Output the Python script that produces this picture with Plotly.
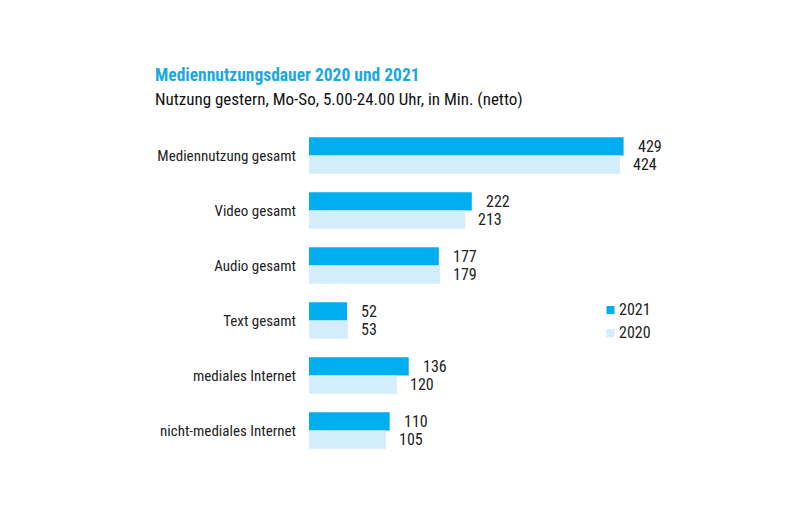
import plotly.graph_objects as go

# Mediennutzungsdauer, Minuten pro Tag
kategorien = ["Mediennutzung gesamt", "Video gesamt", "Audio gesamt",
              "Text gesamt", "mediales Internet", "nicht-mediales Internet"]
werte_2021 = [429, 222, 177, 52, 136, 110]
werte_2020 = [424, 213, 179, 53, 120, 105]
jahre = ["2021", "2020"]

BLAU = "#00AEEF"
HELLBLAU = "#D3EEFA"
FONT = "Liberation Sans Narrow, Arial Narrow, Roboto Condensed, sans-serif"

fig = go.Figure()
fig.add_trace(go.Bar(y=kategorien, x=werte_2021, name=jahre[0], orientation="h",
                     marker_color=BLAU, marker_line_width=0))
fig.add_trace(go.Bar(y=kategorien, x=werte_2020, name=jahre[1], orientation="h",
                     marker_color=HELLBLAU, marker_line_width=0))

# Zahlen rechts neben den Balken
annos = []
for kat, v in zip(kategorien, werte_2021):
    annos.append(dict(x=v, y=kat, text=str(v), showarrow=False, xanchor="left",
                      xshift=12, yshift=9, font=dict(size=16, color="#222")))
for kat, v in zip(kategorien, werte_2020):
    annos.append(dict(x=v, y=kat, text=str(v), showarrow=False, xanchor="left",
                      xshift=11, yshift=-9, font=dict(size=16, color="#222")))

annos.append(dict(xref="paper", yref="paper", x=-0.443, y=1.16, xanchor="left",
                  yanchor="middle", showarrow=False,
                  text="<b>Mediennutzungsdauer 2020 und 2021</b>",
                  font=dict(size=17.5, color="#1AA7E3")))
annos.append(dict(xref="paper", yref="paper", x=-0.443, y=1.088, xanchor="left",
                  yanchor="middle", showarrow=False,
                  text="Nutzung gestern, Mo-So, 5.00-24.00 Uhr, in Min. (netto)",
                  font=dict(size=17, color="#111")))

# eigene Legende: kleine Quadrate + Jahreszahl
shapes = []
for jahr, farbe, ly in zip(jahre, [BLAU, HELLBLAU], [0.4485, 0.3788]):
    shapes.append(dict(type="rect", xref="paper", yref="paper",
                       xsizemode="pixel", ysizemode="pixel",
                       xanchor=0.8565, yanchor=ly, x0=-4, x1=4, y0=-4, y1=4,
                       fillcolor=farbe, line_width=0))
    annos.append(dict(xref="paper", yref="paper", x=0.875, y=ly, xanchor="left",
                      yanchor="middle", showarrow=False, text=jahr,
                      font=dict(size=16, color="#222")))

fig.update_layout(
    width=807, height=523,
    margin=dict(l=301, r=154, t=120, b=73),
    barmode="group", bargap=0.333, bargroupgap=0,
    plot_bgcolor="white", paper_bgcolor="white",
    font=dict(family=FONT, size=15, color="#222"),
    annotations=annos, shapes=shapes,
    showlegend=False,
)
fig.update_xaxes(range=[0, 480], visible=False)
fig.update_yaxes(autorange="reversed", showgrid=False, showline=False,
                 ticks="", ticklabelstandoff=12)

fig.write_html("out.html")
